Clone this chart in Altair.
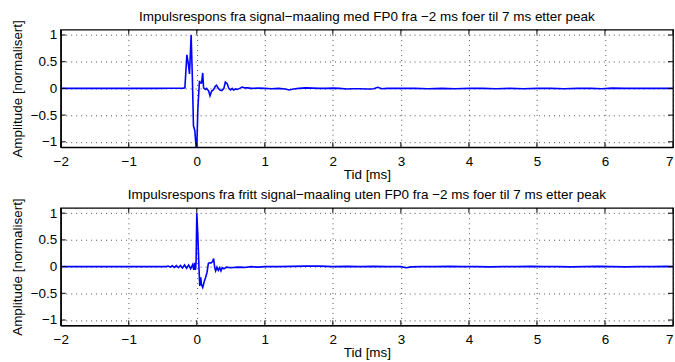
import altair as alt
import pandas as pd

# ---- data ----
t_top = [-2.0, -1.8, -1.6, -1.4, -1.2, -1.0, -0.8, -0.6, -0.4, -0.3, -0.2, -0.175,
         -0.146, -0.126, -0.107, -0.083, -0.065, -0.049, -0.029, -0.01, 0.0, 0.015,
         0.039, 0.053, 0.07, 0.087, 0.1, 0.126, 0.145, 0.175, 0.194, 0.218, 0.243,
         0.272, 0.29, 0.316, 0.34, 0.369, 0.398, 0.42, 0.447, 0.47, 0.495, 0.52, 0.54,
         0.57, 0.595, 0.63, 0.665, 0.7, 0.75, 0.8, 0.9, 1.0, 1.1, 1.2, 1.3, 1.36, 1.42,
         1.5, 1.6, 1.7, 1.8, 1.9, 2.0, 2.1, 2.2, 2.3, 2.4, 2.5, 2.55, 2.6, 2.66, 2.72,
         2.8, 3.0, 3.2, 3.4, 3.6, 3.8, 4.0, 4.2, 4.4, 4.6, 4.8, 5.0, 5.2, 5.4, 5.6, 5.8,
         5.95, 6.1, 6.3, 6.5, 6.7, 6.9, 7.0]
y_top = [0.0, 0.0, 0.0, 0.0, 0.0, 0.0, 0.0, 0.0, 0.002, 0.003, 0.005, 0.01,
         0.63, 0.475, 0.27, 1.0, 0.2, -0.70, -0.79, -1.1, -1.1, -0.4,
         0.14, 0.10, 0.10, 0.29, 0.01, -0.02, 0.0, -0.05, -0.14, -0.05, -0.03,
         0.04, 0.06, 0.0, -0.03, -0.04, 0.0, 0.12, 0.09, 0.0, -0.03, 0.0, -0.03,
         -0.01, -0.02, 0.0, 0.025, 0.01, 0.01, 0.0, 0.005, 0.0, -0.005, 0.0, -0.01, -0.03, -0.01,
         0.0, 0.01, 0.005, 0.0, 0.0, 0.005, 0.0, -0.01, -0.005, -0.005, -0.01, -0.01, -0.005, 0.02, -0.005,
         0.0, 0.0, 0.0, -0.005, 0.0, -0.005, 0.0, 0.0, -0.005, 0.0, -0.005, 0.0, 0.0, -0.005, 0.0, 0.0,
         -0.005, 0.005, 0.0, 0.0, 0.0, 0.0, 0.0]

t_bot = [-2.0, -1.8, -1.6, -1.4, -1.2, -1.0, -0.8, -0.6, -0.45, -0.42, -0.39, -0.36,
         -0.33, -0.30, -0.27, -0.24, -0.21, -0.18, -0.15, -0.12, -0.09, -0.06, -0.045,
         -0.03, -0.02, -0.01, 0.0, 0.015, 0.034, 0.044, 0.058, 0.068, 0.087, 0.112, 0.13,
         0.15, 0.17, 0.185, 0.21, 0.23, 0.248, 0.262, 0.277, 0.296, 0.316, 0.335, 0.355,
         0.375, 0.4, 0.44, 0.5, 0.6, 0.7, 0.8, 0.9, 1.0, 1.2, 1.4, 1.6, 1.8, 2.0, 2.2,
         2.4, 2.6, 2.8, 3.0, 3.08, 3.15, 3.3, 3.5, 3.7, 3.9, 4.1, 4.3, 4.5, 4.7, 4.9, 5.1,
         5.3, 5.5, 5.7, 5.9, 6.1, 6.3, 6.5, 6.7, 6.9, 7.0]
y_bot = [0.0, 0.0, 0.0, 0.0, 0.0, 0.0, 0.0, 0.0, 0.0, 0.01, -0.01, 0.015,
         -0.015, 0.02, -0.02, 0.02, -0.025, 0.03, -0.03, 0.03, -0.04, 0.04, -0.06,
         0.07, -0.06, 0.1, 1.0, 0.6, -0.08, -0.36, -0.2, -0.33, -0.39, -0.27, -0.2,
         -0.11, 0.06, 0.07, 0.07, 0.09, 0.15, -0.01, -0.08, -0.01, -0.07, -0.02, -0.08,
         -0.02, -0.04, -0.01, -0.02, -0.01, -0.015, 0.0, -0.01, 0.0, 0.0, 0.005, 0.01, 0.01, 0.0, 0.005,
         0.0, 0.005, 0.0, 0.0, -0.02, -0.005, 0.0, 0.0, 0.005, 0.0, 0.0, -0.005, 0.0, 0.0, 0.005, 0.0,
         0.0, -0.005, 0.0, 0.005, 0.0, -0.005, 0.0, 0.0, 0.005, 0.0]

x_ticks = [-2, -1, 0, 1, 2, 3, 4, 5, 6, 7]
y_ticks = [-1, -0.5, 0, 0.5, 1]

title_top = "Impulsrespons fra signal\u2212maaling med FP0 fra \u22122 ms foer til 7 ms etter peak"
title_bot = "Impulsrespons fra fritt signal\u2212maaling uten FP0 fra \u22122 ms foer til 7 ms etter peak"

W, H = 615, 118
FONT = "Liberation Sans"
FS = 13.5

xs = alt.Scale(domain=[-2, 7], nice=False, zero=False)
ys = alt.Scale(domain=[-1.1, 1.1], nice=False, zero=False)
x_axis = alt.Axis(values=x_ticks, title="Tid [ms]", format="~g", labelFlush=False,
                  labelOverlap=False, ticks=False, labelPadding=7, titlePadding=0,
                  labelAlign=alt.ExprRef(expr="datum.value == 7 ? 'right' : 'center'"))
y_axis = alt.Axis(values=y_ticks, title="Amplitude [normalisert]", format="~g",
                  labelFlush=False, labelOverlap=False,
                  ticks=False, labelPadding=4, titlePadding=5, minExtent=31, maxExtent=31)


def panel(t, y, title):
    df = pd.DataFrame({"t": t, "y": y})
    line = alt.Chart(df).mark_line(color="#0000ff", strokeWidth=1.6, clip=True).encode(
        x=alt.X("t:Q", scale=xs, axis=x_axis, title="Tid [ms]"),
        y=alt.Y("y:Q", scale=ys, axis=y_axis, title="Amplitude [normalisert]"),
    )
    xt = pd.DataFrame({"t": x_ticks})
    yt = pd.DataFrame({"y": y_ticks})
    xb = alt.Chart(xt).mark_rule(color="black", strokeWidth=1).encode(
        x=alt.X("t:Q", scale=xs, axis=x_axis, title="Tid [ms]"),
        y=alt.value(H), y2=alt.value(H - 5))
    xtp = alt.Chart(xt).mark_rule(color="black", strokeWidth=1).encode(
        x=alt.X("t:Q", scale=xs, axis=x_axis, title="Tid [ms]"),
        y=alt.value(0), y2=alt.value(5))
    yl = alt.Chart(yt).mark_rule(color="black", strokeWidth=1).encode(
        y=alt.Y("y:Q", scale=ys, axis=y_axis, title="Amplitude [normalisert]"),
        x=alt.value(0), x2=alt.value(5))
    yr = alt.Chart(yt).mark_rule(color="black", strokeWidth=1).encode(
        y=alt.Y("y:Q", scale=ys, axis=y_axis, title="Amplitude [normalisert]"),
        x=alt.value(W), x2=alt.value(W - 5))
    ttl = alt.Chart(pd.DataFrame({"title": [title]})).mark_text(
        font=FONT, fontSize=FS, color="black", align="center", baseline="alphabetic"
    ).encode(text="title:N", x=alt.value(W / 2), y=alt.value(-9))
    return alt.layer(line, xb, xtp, yl, yr, ttl).properties(width=W, height=H)


chart = alt.vconcat(
    panel(t_top, y_top, title_top),
    panel(t_bot, y_bot, title_bot),
    spacing=61, bounds="flush",
).properties(
    padding={"left": 10, "top": 8, "right": 0, "bottom": 0},
    background="white",
).configure_view(
    stroke="black", strokeWidth=1.3
).configure_axis(
    labelFont=FONT, titleFont=FONT, labelFontSize=FS, titleFontSize=FS,
    labelColor="black", titleColor="black", titleFontWeight="normal",
    domainColor="black", domainWidth=1.3,
    grid=True, gridColor="black", gridDash=[1, 4], gridOpacity=0.7, gridWidth=1,
)

chart.save("out.html", embed_options={"renderer": "svg", "actions": False})
